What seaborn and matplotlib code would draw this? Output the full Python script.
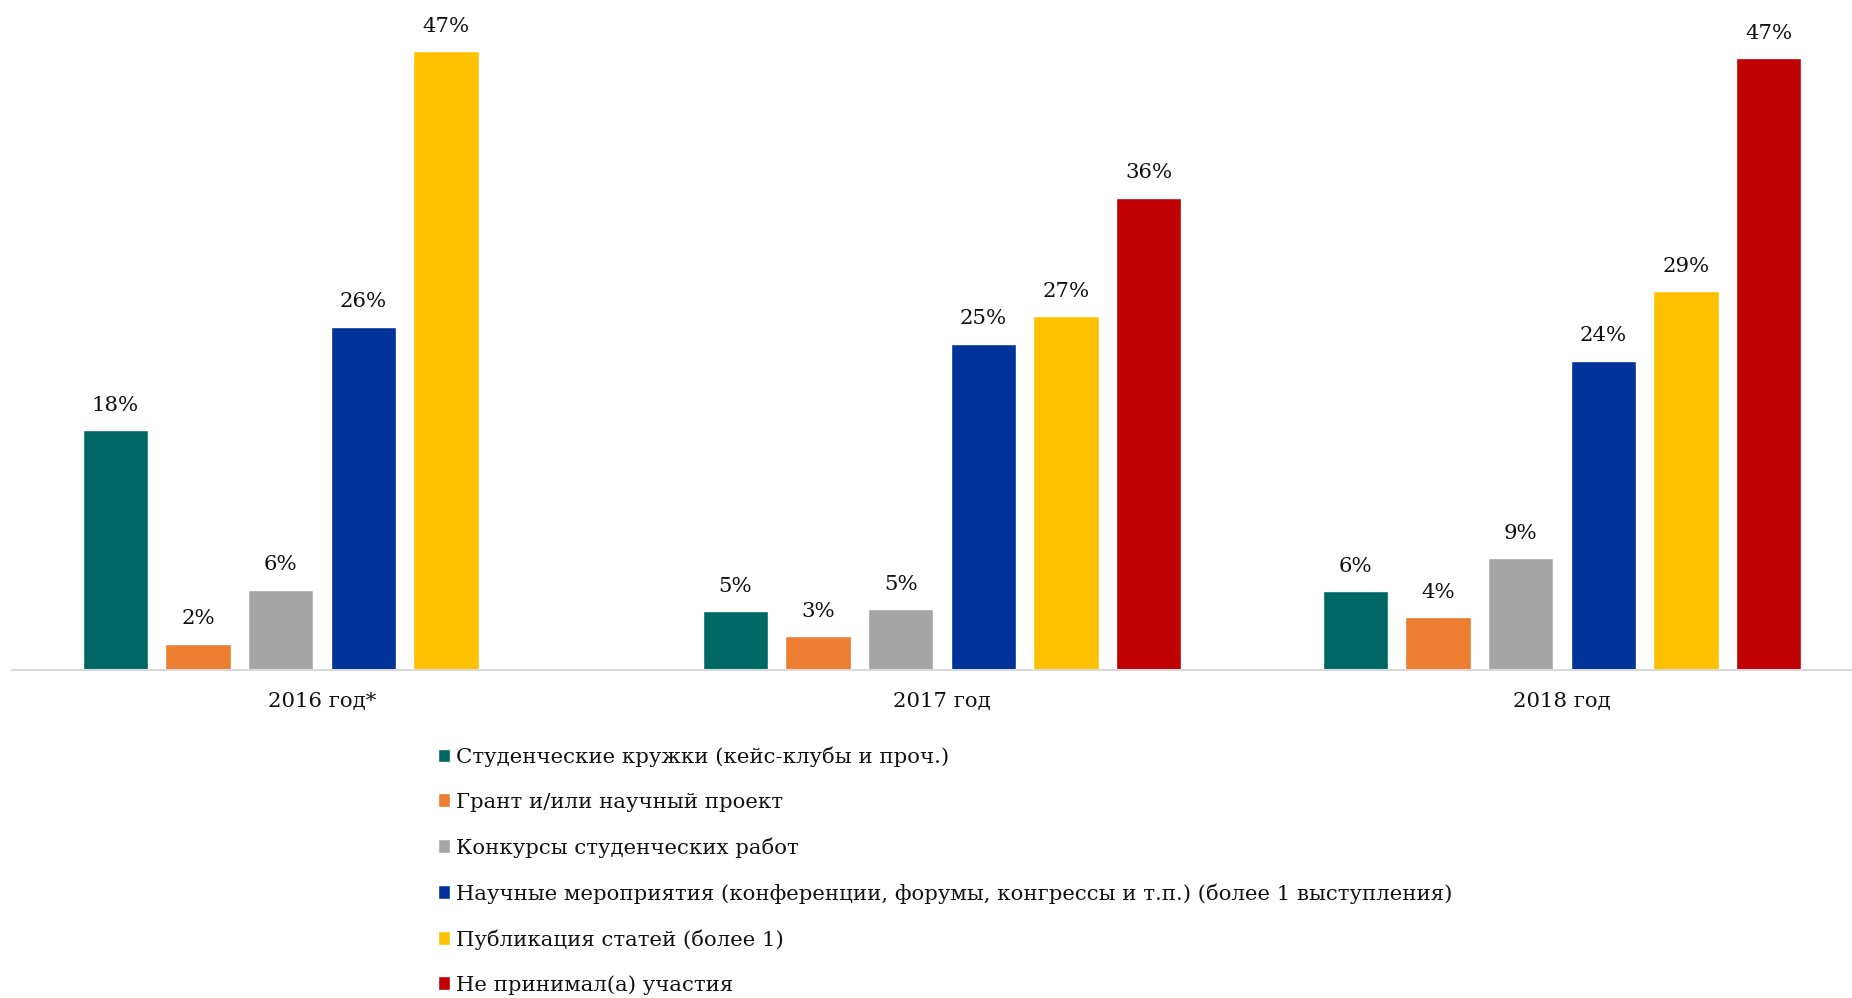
import pandas as pd
import matplotlib
matplotlib.use('Agg')
import matplotlib.pyplot as plt
import seaborn as sns

years = ['2016 год*', '2017 год', '2018 год']
activities = ['Студенческие кружки (кейс-клубы и проч.)',
              'Грант и/или научный проект',
              'Конкурсы студенческих работ',
              'Научные мероприятия (конференции, форумы, конгрессы и т.п.) (более 1 выступления)',
              'Публикация статей (более 1)',
              'Не принимал(а) участия']
colors = ['#006864', '#ED7D31', '#A5A5A5', '#003399', '#FFC000', '#C00000']

# bar heights (2016 has no "не принимал" bar)
v2016 = [18.2, 2.0, 6.1, 26.1, 47.0, None]
v2017 = [4.5, 2.6, 4.6, 24.8, 26.9, 35.9]
v2018 = [6.0, 4.0, 8.5, 23.5, 28.8, 46.5]
# printed labels
l2016 = [18, 2, 6, 26, 47, None]
l2017 = [5, 3, 5, 25, 27, 36]
l2018 = [6, 4, 9, 24, 29, 47]

rows = []
for yr, vals, labs in zip(years, [v2016, v2017, v2018], [l2016, l2017, l2018]):
    for act, v, l in zip(activities, vals, labs):
        if v is None:
            continue
        rows.append({'year': yr, 'activity': act, 'value': v, 'label': l})
df = pd.DataFrame(rows)

sns.set_theme(style='white')
plt.rcParams['font.family'] = ['DejaVu Serif']
fs = 15.3

fig = plt.figure(figsize=(18.52, 9.98), dpi=100)
ax = fig.add_axes([12/1852, 328/998, 1840/1852, 658/998])

sns.barplot(data=df, x='year', y='value', hue='activity', order=years,
            hue_order=activities, palette=colors, width=0.8, gap=0.21,
            saturation=1, errorbar=None, ax=ax)

for act, cont in zip(activities, ax.containers):
    sub = df[df['activity'] == act]
    labs = sub.set_index('year').reindex([y for y in years if y in set(sub['year'])])['label']
    ax.bar_label(cont, labels=[f'{int(l)}%' for l in labs], padding=11,
                 fontsize=fs, color='#111111')

ax.set_xlim(-0.5, -0.5 + 1840/620)
ax.set_ylim(0, 50)
ax.set_xlabel('')
ax.set_ylabel('')
ax.set_yticks([])
for s in ['top', 'left', 'right']:
    ax.spines[s].set_visible(False)
ax.spines['bottom'].set_color('#D9D9D9')
ax.spines['bottom'].set_linewidth(1.5)
ax.tick_params(axis='x', length=0, pad=16, labelsize=fs, labelcolor='#111111')

sns.move_legend(ax, loc='upper left', bbox_to_anchor=(429/1852, 260/998),
                bbox_transform=fig.transFigure, frameon=False, title=None,
                fontsize=fs, handlelength=0.6, handleheight=0.6,
                handletextpad=0.25, labelspacing=1.2, borderaxespad=0)
for t in ax.get_legend().get_texts():
    t.set_color('#111111')

fig.savefig('out.png', dpi=100)
